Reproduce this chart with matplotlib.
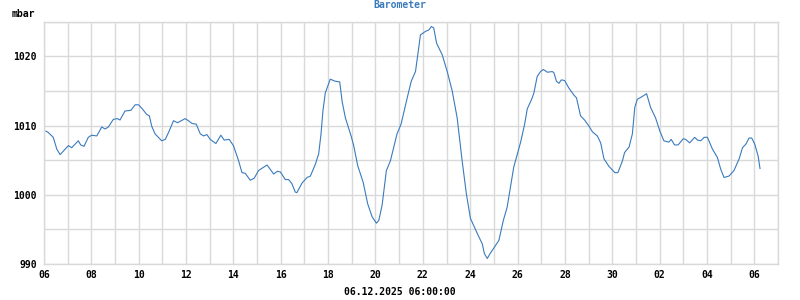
import matplotlib.pyplot as plt
import numpy as np

# days since 06.12.2025 06:00 and pressure in mbar
days = [0.08, 0.18, 0.39, 0.54, 0.68, 1.03, 1.17, 1.45, 1.55, 1.69, 1.87, 2.01, 2.23,
        2.44, 2.58, 2.72, 2.93, 3.10, 3.21, 3.42, 3.67, 3.85, 3.99, 4.13, 4.34, 4.45,
        4.55, 4.69, 4.97, 5.12, 5.26, 5.47, 5.64, 5.96, 6.10, 6.25, 6.43, 6.60, 6.74,
        6.88, 7.02, 7.26, 7.47, 7.61, 7.82, 8.00, 8.22, 8.36, 8.50, 8.71, 8.88, 9.06,
        9.42, 9.70, 9.86, 9.98, 10.19, 10.33, 10.47, 10.61, 10.68, 10.90, 11.11, 11.25,
        11.46, 11.60, 11.70, 11.78, 11.88, 12.09, 12.30, 12.49, 12.59, 12.73, 12.97,
        13.08, 13.25, 13.48, 13.67, 13.86, 14.04, 14.14, 14.28, 14.46, 14.63, 14.91,
        15.08, 15.34, 15.51, 15.69, 15.90, 16.11, 16.25, 16.36, 16.46, 16.58, 16.82,
        17.03, 17.24, 17.45, 17.66, 17.84, 18.01, 18.30, 18.51, 18.60, 18.72, 18.86,
        19.21, 19.40, 19.56, 19.84, 20.13, 20.30, 20.41, 20.62, 20.69, 20.83, 20.97,
        21.09, 21.26, 21.47, 21.54, 21.64, 21.75, 21.85, 21.99, 22.17, 22.38, 22.49,
        22.66, 22.83, 23.02, 23.16, 23.37, 23.51, 23.65, 23.86, 24.11, 24.24, 24.43,
        24.52, 24.71, 24.85, 24.95, 25.06, 25.27, 25.45, 25.62, 25.83, 26.01, 26.18,
        26.39, 26.49, 26.63, 26.78, 27.00, 27.10, 27.27, 27.48, 27.60, 27.74, 27.88,
        28.02, 28.23, 28.44, 28.58, 28.72, 28.93, 29.14, 29.36, 29.50, 29.64, 29.78,
        29.89, 30.02, 30.16, 30.24]
pressure = [1009.2, 1009.0, 1008.3, 1006.6, 1005.8, 1007.1, 1006.8, 1007.8, 1007.2, 1007.0,
            1008.3, 1008.6, 1008.5, 1009.8, 1009.5, 1009.8, 1010.9, 1011.0, 1010.8, 1012.1,
            1012.2, 1013.0, 1013.0, 1012.5, 1011.6, 1011.4, 1009.9, 1008.8, 1007.8, 1008.0,
            1009.0, 1010.7, 1010.4, 1011.0, 1010.7, 1010.3, 1010.2, 1008.8, 1008.5, 1008.7,
            1008.0, 1007.4, 1008.6, 1007.9, 1008.0, 1007.1, 1004.9, 1003.2, 1003.1, 1002.1,
            1002.4, 1003.5, 1004.3, 1003.0, 1003.4, 1003.3, 1002.2, 1002.2, 1001.6, 1000.4,
            1000.3, 1001.7, 1002.5, 1002.7, 1004.4, 1005.9, 1008.8, 1012.1, 1014.7, 1016.7,
            1016.4, 1016.3, 1013.5, 1011.1, 1008.5, 1007.1, 1004.2, 1001.8, 998.7, 996.8,
            995.9, 996.3, 998.5, 1003.5, 1004.9, 1008.8, 1010.2, 1014.0, 1016.4, 1017.8,
            1023.1, 1023.6, 1023.8, 1024.3, 1024.1, 1021.9, 1020.2, 1017.8, 1015.0, 1011.1,
            1004.9, 1000.1, 996.6, 994.4, 992.9, 991.5, 990.8, 991.6, 993.4, 996.3, 998.2,
            1004.0, 1007.6, 1010.2, 1012.4, 1014.0, 1014.7, 1017.1, 1017.8, 1018.1, 1017.7,
            1017.8, 1017.6, 1016.4, 1016.1, 1016.6, 1016.5, 1015.4, 1014.4, 1014.0, 1011.4,
            1010.8, 1009.9, 1009.1, 1008.5, 1007.5, 1005.2, 1004.1, 1003.2, 1003.2, 1004.9,
            1006.1, 1006.9, 1008.8, 1012.6, 1013.8, 1014.2, 1014.6, 1012.6, 1011.1, 1009.2,
            1007.8, 1007.6, 1008.0, 1007.2, 1007.2, 1008.1, 1008.0, 1007.5, 1008.3, 1007.9,
            1007.8, 1008.3, 1008.3, 1006.6, 1005.4, 1003.7, 1002.5, 1002.7, 1003.5, 1005.2,
            1006.8, 1007.3, 1008.2, 1008.2, 1007.3, 1005.6, 1003.8]

x_tick_labels = ['06', '08', '10', '12', '14', '16', '18', '20', '22', '24', '26', '28',
                 '30', '02', '04', '06']
y_ticks = [990, 1000, 1010, 1020]

line_color = '#3a7bbd'
grid_color = '#d9d9d9'
font = {'family': 'DejaVu Sans Mono', 'weight': 'bold', 'size': 7}

fig = plt.figure(figsize=(8, 3), dpi=100)
ax = fig.add_axes([44 / 800, 1 - 264 / 300, (778 - 44) / 800, (264 - 21.7) / 300])

ax.plot(days, pressure, color=line_color, linewidth=0.8)

ax.set_xlim(0, 31)
ax.set_ylim(990, 1025)
ax.set_xticks(np.arange(0, 31, 2))
ax.set_xticks(np.arange(1, 32, 2), minor=True)
ax.set_xticklabels(x_tick_labels, fontdict=font)
ax.set_yticks(y_ticks)
ax.set_yticks([995, 1005, 1015, 1025], minor=True)
ax.set_yticklabels([str(v) for v in y_ticks], fontdict=font)
ax.tick_params(which='both', length=0)
ax.tick_params(axis='x', pad=4)
ax.tick_params(axis='y', pad=5)
ax.grid(True, which='both', color=grid_color, linewidth=1)
ax.set_axisbelow(True)
for s in ax.spines.values():
    s.set_color(grid_color)
    s.set_linewidth(1)

fig.text(0.5, 1 - 5.5 / 300, 'Barometer', color=line_color, ha='center', va='center', **font)
fig.text(11.5 / 800, 1 - 14 / 300, 'mbar', color='black', ha='left', va='center', **font)
fig.text(0.5, 1 - 291.7 / 300, '06.12.2025 06:00:00', color='black', ha='center',
         va='center', **font)

fig.savefig('out.png', dpi=100)
